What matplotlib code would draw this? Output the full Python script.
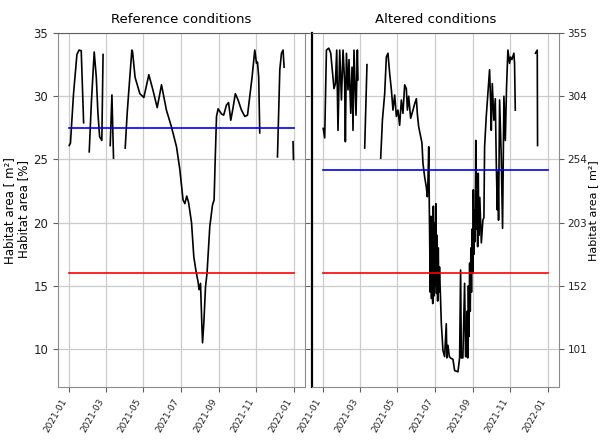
"""
Habitat area time series: reference vs altered conditions.
"""
import numpy as np
import pandas as pd
import matplotlib
matplotlib.use("Agg")
import matplotlib.pyplot as plt
import matplotlib.dates as mdates

plt.rcParams["font.family"] = ["DejaVu Sans"]

NAN = np.nan
START = pd.Timestamp("2021-01-01")
END = pd.Timestamp("2022-01-01")

# reference conditions, day offset from START and habitat area [%]
REF_DAY = [0, 2, 7, 12.5, 16, 19.5, 23.4, 28,
           32.5, 36, 40.6, 44, 46.6, 49.4, 53, 55, 60,
           66.6, 69.4, 72, 80,
           91, 94, 96.5, 101.8, 103, 107, 114.8, 121.3, 129.4, 136, 143, 150,
           158, 166, 174.4, 179.8, 185, 188, 191, 194, 198.8, 202.5, 205.8,
           209.5, 211, 213.4, 215.5, 216.7, 218.8, 221.5, 224, 228.5, 232.9,
           235.5, 237, 239.4, 242, 247.5, 251, 255.6, 259, 262.6, 266, 270,
           274.5, 280, 285.4, 289.8, 293.5, 297.2, 301.6, 304.4, 306, 308,
           309.7, 320,
           338.5, 342.3, 345, 347.6, 349.3, 355,
           363.8, 364.5]
REF_PCT = [26.1, 26.3, 30.2, 33.3, 33.65, 33.6, 27.9, NAN,
           25.6, 29.5, 33.5, 31.5, 28.7, 26.8, 26.5, 33.3, NAN,
           26.1, 30.1, 25.1, NAN,
           25.9, 28.5, 30.2, 33.65, 33.5, 31.5, 30.2, 29.9, 31.7, 30.5, 29.1,
           30.9, 28.9, 27.6, 26.0, 24.2, 21.8, 21.5, 22.1, 21.6, 20.0, 17.3,
           16.25, 15.3, 14.7, 15.2, 12.05, 10.5, 12.05, 14.9, 16.0, 19.7, 21.4,
           21.8, 24.5, 28.4, 29.0, 28.6, 28.5, 29.3, 29.5, 28.1, 29.0, 30.2,
           29.7, 28.9, 28.4, 28.5, 30.0, 31.5, 33.65, 32.6, 32.7, 31.5,
           27.1, NAN,
           25.2, 32.1, 33.4, 33.65, 32.3, NAN,
           26.4, 25.0]

# altered conditions, day offset from START and habitat area [%]
ALT_DAY = [0, 2.4, 5.2, 9, 12.2, 14.3, 17.5, 19.8, 21.9, 24, 26.8, 29.6,
           32.2, 34.9, 36, 37.7, 40.3, 41.9, 44.7, 46.8, 48.4, 50, 53.3, 55.5,
           56.5, 62,
           67.4, 71.1, 80,
           93.4, 96.2, 99.9, 102.6, 105.2, 108, 110.8, 113.4, 116.1, 118.9,
           121.5, 124.2, 127, 129.6, 132.4, 135.1, 136.8, 138.9, 142.1, 145.9,
           148.6, 151.4, 153, 155.1, 158.4, 160.5, 162.1, 164.9, 167.6, 169.2,
           170.2, 171.5, 172.5, 174, 175, 176, 177, 178, 179, 180, 181, 182,
           183, 184, 185, 186, 187, 188, 189, 192, 194.6, 197.3, 200, 201,
           202.7, 205, 208.2, 210.8, 213.6, 219, 221.7, 223.3, 224.5, 227,
           229.8, 231.4, 233, 234, 235, 236, 237, 238, 239, 240, 241, 242,
           243, 244, 245, 246, 247, 248, 249, 250, 251, 252, 253, 254.5, 257,
           259.5, 261.2, 262.3, 265, 267.7, 270.4, 272, 273.2, 274.8, 277.4,
           279.7, 281.3, 283, 284, 285, 286.7, 289.4, 291.5, 293.7, 296, 298,
           300.2, 302.9, 304.5, 306.7, 309.9, 311, 312.2, 330,
           345, 347.9, 348.4]
ALT_PCT = [27.45, 26.7, 33.65, 33.8, 33.4, 32.3, 30.6, 31.0, 33.65, 27.3,
           33.65, 29.7, 33.65, 31.0, 26.4, 33.4, 30.5, 32.9, 28.65, 32.3, 27.3,
           33.65, 28.5, 33.65, 31.3, NAN,
           25.9, 32.5, NAN,
           25.1, 28.1, 30.2, 33.1, 33.4, 31.8, 30.5, 28.9, 30.1, 28.4, 28.9,
           27.7, 29.7, 28.65, 30.9, 30.6, 28.9, 30.0, 28.25, 28.9, 29.4, 29.8,
           28.6, 27.6, 26.8, 26.3, 24.7, 23.6, 22.8, 22.05, 23.2, 26.0, 21.0,
           14.5, 20.5, 14.0, 19.5, 13.6, 21.3, 14.2, 20.0, 15.0, 21.5, 14.4,
           19.0, 13.8, 18.0, 14.5, 16.5, 12.0, 9.9, 9.4, 12.0, 9.3, 10.3, 9.4,
           9.25, 9.2, 8.3, 8.2, 9.3, 16.25, 9.3, 9.3, 15.2, 9.4, 9.4, 13.0,
           9.3, 15.0, 11.0, 16.8, 13.0, 18.0, 14.5, 19.5, 16.0, 22.6, 17.5,
           21.0, 18.5, 26.5, 19.5, 23.9, 18.1, 23.9, 19.0, 22.0, 18.4, 20.2,
           20.4, 26.0, 28.4, 30.2, 32.1, 29.7, 27.3, 31.0, 28.1, 29.8, 24.7,
           21.0, 24.0, 20.2, 29.7, 25.2, 19.55, 30.0, 26.5, 30.75, 33.65, 32.6,
           33.1, 32.9, 33.4, 32.6, 28.9, NAN,
           33.4, 33.65, 26.1]

# threshold levels [%]
REF_UPPER, REF_LOWER = 27.45, 16.0
ALT_UPPER, ALT_LOWER = 24.15, 16.0

PCT_TICKS = [10, 15, 20, 25, 30, 35]
M2_LABELS = ["101", "152", "203", "254", "304", "355"]
Y_LIM = (7, 35)


def to_dates(days):
    return START + pd.to_timedelta(np.asarray(days, dtype=float), unit="D")


def style_axis(ax):
    ax.grid(True, color="#cccccc", linewidth=0.9)
    ax.set_axisbelow(True)
    ax.set_ylim(*Y_LIM)
    ax.set_yticks(PCT_TICKS)
    ax.xaxis.set_major_locator(mdates.MonthLocator(bymonth=[1, 3, 5, 7, 9, 11]))
    ax.xaxis.set_major_formatter(mdates.DateFormatter("%Y-%m"))
    for lab in ax.get_xticklabels():
        lab.set_rotation(60)
        lab.set_horizontalalignment("right")
        lab.set_fontsize(6.5)
    for sp in ax.spines.values():
        sp.set_color("#8c8c8c")
    ax.spines["top"].set_color("#606060")
    ax.tick_params(axis="y", labelsize=8.5, color="#606060", labelcolor="#222222")
    ax.tick_params(axis="x", color="#606060", labelcolor="#222222")


fig = plt.figure(figsize=(6.01, 4.42), dpi=100)
ax1 = fig.add_axes([58 / 601, 55 / 442, 247 / 601, 354 / 442])
ax2 = fig.add_axes([312 / 601, 55 / 442, 247 / 601, 354 / 442])

# reference panel
ax1.plot(to_dates(REF_DAY), REF_PCT, color="black", lw=1.2)
ax1.plot([START, END], [REF_UPPER, REF_UPPER], color="blue", lw=1.2)
ax1.plot([START, END], [REF_LOWER, REF_LOWER], color="red", lw=1.2)
style_axis(ax1)
ax1.tick_params(axis="y", right=True)
ax1.set_title("Reference conditions", fontsize=9.5, pad=7)

# altered panel
ax2.plot(to_dates(ALT_DAY), ALT_PCT, color="black", lw=1.2)
ax2.plot([START, END], [ALT_UPPER, ALT_UPPER], color="blue", lw=1.2)
ax2.plot([START, END], [ALT_LOWER, ALT_LOWER], color="red", lw=1.2)
style_axis(ax2)
ax2.yaxis.tick_right()
ax2.set_yticklabels(M2_LABELS)
ax2.tick_params(axis="y", labelsize=7.5, pad=2.5)
ax2.spines["left"].set_color("black")
ax2.spines["left"].set_linewidth(1.6)
ax2.set_title("Altered conditions", fontsize=9.5, pad=7)

ylab_font = dict(rotation=90, ha="center", va="center", fontsize=8.5)
fig.text(10 / 601, 1 - 211 / 442, "Habitat area [ m²]", **ylab_font)
fig.text(24 / 601, 1 - 209 / 442, "Habitat area [%]", **ylab_font)
fig.text(593.5 / 601, 1 - 211 / 442, "Habitat area [ m²]", fontsize=8,
         rotation=90, ha="center", va="center")

fig.savefig("out.png", dpi=100)
